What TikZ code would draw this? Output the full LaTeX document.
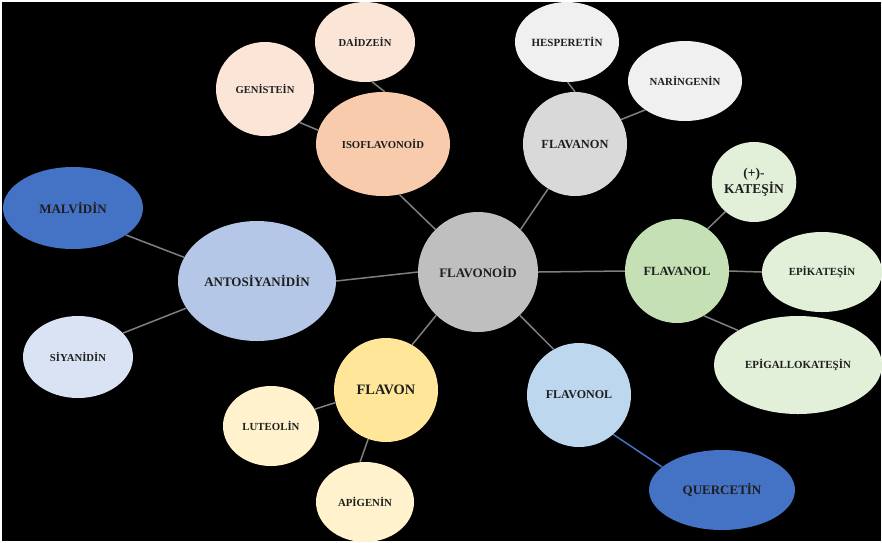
\documentclass[tikz,border=0pt]{standalone}
\usepackage{fontspec}
\setmainfont{Liberation Serif}
\usepackage{xcolor}
\usepackage{tikz}
\usetikzlibrary{shapes.geometric}
\definecolor{cgray}{RGB}{191,191,191}
\definecolor{cpeach}{RGB}{248,203,173}
\definecolor{lightpeach}{RGB}{251,229,214}
\definecolor{cblue}{RGB}{68,114,196}
\definecolor{midblue}{RGB}{180,199,231}
\definecolor{lightblue}{RGB}{218,227,243}
\definecolor{cyellow}{RGB}{255,230,153}
\definecolor{lightyellow}{RGB}{255,242,204}
\definecolor{midgray}{RGB}{217,217,217}
\definecolor{lightgray}{RGB}{240,240,240}
\definecolor{cgreen}{RGB}{197,224,180}
\definecolor{lightgreen}{RGB}{226,240,217}
\definecolor{skyblue}{RGB}{189,215,238}
\definecolor{clink}{RGB}{127,127,127}
\definecolor{ctext}{RGB}{30,30,30}

\begin{document}
\begin{tikzpicture}[
    x=1pt, y=-1pt,
    bubble/.style={ellipse, inner sep=0pt, align=center, text=ctext},
    txt/.style={font=\bfseries\fontsize{#1}{#1}\selectfont},
    link/.style={draw=clink, line width=1.5pt},
]
    % Background
    \fill[white] (0,0) rectangle (882,542);
    \fill[black] (1.5,1.5) rectangle (880.5,540.5);
    \useasboundingbox (0,0) rectangle (882,542);

    % Centre
    \node[bubble, fill=cgray, minimum width=120, minimum height=120, txt=13] (flavonoid) at (478,272) {FLAVONOİD};

    % Isoflavonoid group
    \node[bubble, fill=cpeach, minimum width=134, minimum height=104, txt=10.7] (iso) at (383,144) {ISOFLAVONOİD};
    \node[bubble, fill=lightpeach, minimum width=98, minimum height=94, txt=10.6] (genistein) at (265,89) {GENİSTEİN};
    \node[bubble, fill=lightpeach, minimum width=100, minimum height=80, txt=10.6] (daidzein) at (365,42) {DAİDZEİN};

    % Antosiyanidin group
    \node[bubble, fill=midblue, minimum width=158, minimum height=120, txt=13] (antos) at (257,281) {ANTOSİYANİDİN};
    \node[bubble, fill=cblue, minimum width=140, minimum height=82, txt=13] (malvidin) at (73,208) {MALVİDİN};
    \node[bubble, fill=lightblue, minimum width=110, minimum height=82, txt=10.7] (siyanidin) at (78,357) {SİYANİDİN};

    % Flavon group
    \node[bubble, fill=cyellow, minimum width=104, minimum height=104, txt=14.4] (flavon) at (386,390) {FLAVON};
    \node[bubble, fill=lightyellow, minimum width=96, minimum height=80, txt=10.8] (luteolin) at (271,426) {LUTEOLİN};
    \node[bubble, fill=lightyellow, minimum width=98, minimum height=80, txt=10.8] (apigenin) at (365,502) {APİGENİN};

    % Flavanon group
    \node[bubble, fill=midgray, minimum width=104, minimum height=104, txt=12.4] (flavanon) at (575,144) {FLAVANON};
    \node[bubble, fill=lightgray, minimum width=104, minimum height=80, txt=11] (hesperetin) at (567,42) {HESPERETİN};
    \node[bubble, fill=lightgray, minimum width=114, minimum height=80, txt=10.8] (naringenin) at (685,81) {NARİNGENİN};

    % Flavanol group
    \node[bubble, fill=cgreen, minimum width=104, minimum height=104, txt=12.5] (flavanol) at (677,271) {FLAVANOL};
    \node[bubble, fill=lightgreen, minimum width=80, minimum height=80, font=\bfseries\fontsize{13.5}{14}\selectfont] (katesin) at (754,182) {(+)-\\KATEŞİN};
    \node[bubble, fill=lightgreen, minimum width=120, minimum height=80, txt=10.9] (epikatesin) at (822,272) {EPİKATEŞİN};
    \node[bubble, fill=lightgreen, minimum width=168, minimum height=98, txt=10.9] (epigallo) at (798,365) {EPİGALLOKATEŞİN};

    % Flavonol group
    \node[bubble, fill=skyblue, minimum width=104, minimum height=104, txt=12] (flavonol) at (579,395) {FLAVONOL};
    \node[bubble, fill=cblue, minimum width=146, minimum height=80, txt=13] (quercetin) at (722,490) {QUERCETİN};

    % Links
    \draw[link] (daidzein.280) -- (iso.88);
    \draw[link] (genistein.-44) -- (iso.168);
    \draw[link] (iso.-72) -- (flavonoid.135);
    \draw[link] (malvidin.-27) -- (antos.162);
    \draw[link] (siyanidin.28) -- (antos.201);
    \draw[link] (antos.0) -- (flavonoid.180);
    \draw[link] (flavonoid.226) -- (flavon.60);
    \draw[link] (flavon.194) -- (luteolin.21);
    \draw[link] (flavon.250) -- (apigenin.97);
    \draw[link] (flavonoid.45) -- (flavanon.239);
    \draw[link] (hesperetin.271) -- (flavanon.90);
    \draw[link] (naringenin.216) -- (flavanon.28);
    \draw[link] (flavonoid.0) -- (flavanol.180);
    \draw[link] (katesin.226) -- (flavanol.54);
    \draw[link] (flavanol.0) -- (epikatesin.180);
    \draw[link] (flavanol.301) -- (epigallo.150);
    \draw[link] (flavonoid.314) -- (flavonol.119);
    \draw[link, draw=cblue] (flavonol.311) -- (quercetin.159);
\end{tikzpicture}
\end{document}
